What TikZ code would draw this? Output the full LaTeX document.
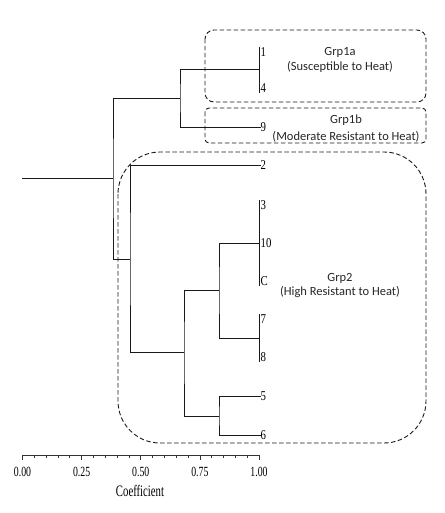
\documentclass[tikz,border=0pt]{standalone}
\usepackage{fontspec}
\setmainfont{Liberation Serif}
\newfontfamily\grpfont{Carlito}
\begin{document}
\begin{tikzpicture}[x=1pt,y=-1pt,
  tree/.style={draw=black!90,line width=0.9pt},
  grpbox/.style={draw=black!90,line width=0.9pt,dash pattern=on 4.5pt off 2.5pt},
  leaf/.style={anchor=west,inner sep=0pt,font=\fontsize{13.5}{13.5}\selectfont,xscale=0.8},
  grplbl/.style={inner sep=0pt,font=\grpfont\fontsize{12.5}{12.5}\selectfont,text=black!85},
  axlbl/.style={inner sep=0pt,font=\fontsize{14}{14}\selectfont,xscale=0.7},
  coeflbl/.style={inner sep=0pt,font=\fontsize{16}{16}\selectfont,xscale=0.67},
  ticksty/.style={draw=black!80,line width=0.7pt}]
\useasboundingbox (0,0) rectangle (444,513);
% leaves
\node[leaf] (l1) at (260.5,52) {1};
\node[leaf] (l4) at (260.5,88) {4};
\node[leaf] (l9) at (260.5,127) {9};
\node[leaf] (l2) at (260.5,165) {2};
\node[leaf] (l3) at (260.5,205) {3};
\node[leaf] (l10) at (260.5,243) {10};
\node[leaf] (lC) at (260.5,281) {C};
\node[leaf] (l7) at (260.5,319) {7};
\node[leaf] (l8) at (260.5,357) {8};
\node[leaf] (l5) at (260.5,396) {5};
\node[leaf] (l6) at (260.5,435) {6};
% internal joins
\coordinate (r0) at (22,178);
\coordinate (A) at (113,178);
\coordinate (B) at (180,98);
\coordinate (C1) at (259,69);
\coordinate (D) at (130,259);
\coordinate (E) at (184,352);
\coordinate (F) at (219,290);
\coordinate (G) at (259,243);
\coordinate (H) at (259,338);
\coordinate (I) at (219,416);
\draw[tree] (r0) -- (A);
\draw[tree] (B) -| (A) |- (D);
\draw[tree] (C1) -| (B) |- (l9.west);
\draw[tree] (C1 |- l1.north) -- (C1 |- l4.south);
\draw[tree] (l2.west) -| (D) |- (E);
\draw[tree] (F) -| (E) |- (I);
\draw[tree] (G) -| (F) |- (H);
\draw[tree] (G |- l3.north) -- (G |- lC.south);
\draw[tree] (H |- l7.north) -- (H |- l8.south);
\draw[tree] (l5.west) -| (I) |- (l6.west);
% group boxes
\draw[grpbox,rounded corners=9pt] (205,30) rectangle (426,102);
\draw[grpbox,rounded corners=4pt] (205,108) rectangle (426,143);
\draw[grpbox,rounded corners=42pt] (118,152) rectangle (426,443);
\node[grplbl] (g1a) at (340,52) {Grp1a};
\node[grplbl] (g1as) at (340,67) {(Susceptible to Heat)};
\node[grplbl] (g1b) at (346,120) {Grp1b};
\node[grplbl] (g1bs) at (346,137) {(Moderate Resistant to Heat)};
\node[grplbl] (g2) at (340,278) {Grp2};
\node[grplbl] (g2s) at (340,292) {(High Resistant to Heat)};
% axis
\draw[ticksty] (22.5,455) -- (259,455);
\foreach \i in {0,...,20}{
  \pgfmathsetmacro\xx{22.5+236.5*\i/20}
  \draw[ticksty] (\xx,455) -- (\xx,458);
}
\foreach \i in {0,5,10,15,20}{
  \pgfmathsetmacro\xx{22.5+236.5*\i/20}
  \draw[ticksty] (\xx,455) -- (\xx,460);
}
\node[axlbl] (a0) at (22.5,472) {0.00};
\node[axlbl] (a1) at (81.6,472) {0.25};
\node[axlbl] (a2) at (140.75,472) {0.50};
\node[axlbl] (a3) at (199.9,472) {0.75};
\node[axlbl] (a4) at (259,472) {1.00};
\node[coeflbl] (coef) at (140,491) {Coefficient};
\end{tikzpicture}
\end{document}
